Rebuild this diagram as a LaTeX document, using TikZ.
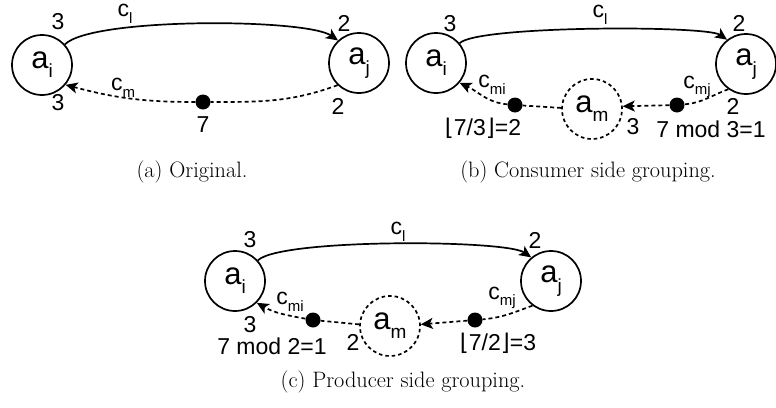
\documentclass[tikz,border=0pt]{standalone}
\usepackage{fontspec}
\usetikzlibrary{arrows.meta}
\newfontfamily\lblfont{Liberation Sans}
\newfontfamily\symfont{DejaVu Sans}
% subscript in the label font
\newcommand{\lowsub}[1]{\raisebox{-0.28em}{\fontsize{15}{15}\selectfont #1}}
\newcommand{\nodesub}[1]{\raisebox{-0.3em}{\fontsize{19}{19}\selectfont #1}}
\newcommand{\flo}{{\symfont\char"230A}}
\newcommand{\flc}{{\symfont\char"230B}}
\begin{document}
\begin{tikzpicture}[x=1pt, y=-1pt,
  actor/.style={circle, draw, line width=1.7pt, minimum size=60pt, inner sep=0pt,
    font=\lblfont\fontsize{31}{31}\selectfont},
  groupactor/.style={actor, dash pattern=on 3.5pt off 3pt},
  tok/.style={circle, fill=black, minimum size=15pt, inner sep=0pt},
  lbl/.style={font=\lblfont\fontsize{23}{23}\selectfont, inner sep=0pt},
  captext/.style={font=\fontsize{22.3}{26}\selectfont, inner sep=0pt},
  chan/.style={line width=1.7pt, -{Stealth[length=12pt, width=11pt, inset=3pt]}},
  dchan/.style={line width=1.7pt, dash pattern=on 4pt off 3pt},
  dchanarr/.style={dchan, -{Stealth[length=12pt, width=11pt, inset=3pt]}}
]
\useasboundingbox (0,0) rectangle (776,407);

% ---------------- (a) original ----------------
\node[actor] (ai) at (42,65) {a\nodesub{i}};
\node[actor] (aj) at (359,63) {a\nodesub{j}};
\node[tok] (t) at (203,102) {};
\draw[chan] (ai.42) to[out=45, in=145, looseness=0.36] (aj.133);
\draw[dchan] (aj.226) to[out=200, in=0] (t);
\draw[dchanarr] (t) to[out=180, in=-15] (ai.-40);
\node[lbl] (a3t) at (58,22) {3};
\node[lbl] (acl) at (125,14) {c\lowsub{l}};
\node[lbl] (a2t) at (344,23) {2};
\node[lbl] (acm) at (123,88) {c\lowsub{m}};
\node[lbl] (a3b) at (58,103) {3};
\node[lbl] (a2b) at (338,106) {2};
\node[lbl] (a7) at (203,125) {7};
\node[captext] (capa) at (192,172) {(a) Original.};

% ---------------- (b) consumer side grouping ----------------
\node[actor] (bi) at (436,63) {a\nodesub{i}};
\node[actor] (bj) at (746,64) {a\nodesub{j}};
\node[groupactor] (bm) at (592,109) {a\nodesub{m}};
\node[tok] (bt1) at (515,105) {};
\node[tok] (bt2) at (677,105) {};
\draw[chan] (bi.40) to[out=45, in=145, looseness=0.24] (bj.128);
\draw[dchan] (bj.235) to[out=200, in=5] (bt2);
\draw[dchanarr] (bt2) -- (bm.5);
\draw[dchan] (bm.178) -- (bt1);
\draw[dchanarr] (bt1) to[out=175, in=-25] (bi.-40);
\node[lbl] (b3t) at (450,24) {3};
\node[lbl] (bcl) at (600,15) {c\lowsub{l}};
\node[lbl] (b2t) at (739,23) {2};
\node[lbl] (bcmi) at (492,85) {c\lowsub{mi}};
\node[lbl] (bcmj) at (697,87) {c\lowsub{mj}};
\node[lbl] (b2b) at (733,106) {2};
\node[lbl] (bfl) at (483,128) {\flo7/3\flc=2};
\node[lbl] (b3b) at (633,127) {3};
\node[lbl] (bmod) at (711,129) {7 mod 3=1};
\node[captext] (capb) at (588,172) {(b) Consumer side grouping.};

% ---------------- (c) producer side grouping ----------------
\node[actor] (ci) at (235,281) {a\nodesub{i}};
\node[actor] (cj) at (551,281) {a\nodesub{j}};
\node[groupactor] (cm) at (390,326) {a\nodesub{m}};
\node[tok] (ct1) at (313,320) {};
\node[tok] (ct2) at (475,320) {};
\draw[chan] (ci.42) to[out=45, in=145, looseness=0.29] (cj.130);
\draw[dchan] (cj.233) to[out=200, in=5] (ct2);
\draw[dchanarr] (ct2) -- (cm.3);
\draw[dchan] (cm.177) -- (ct1);
\draw[dchanarr] (ct1) to[out=170, in=-30] (ci.-45);
\node[lbl] (c3t) at (250,240) {3};
\node[lbl] (ccl) at (398,232) {c\lowsub{l}};
\node[lbl] (c2t) at (535,240) {2};
\node[lbl] (ccmi) at (290,302) {c\lowsub{mi}};
\node[lbl] (ccmj) at (502,298) {c\lowsub{mj}};
\node[lbl] (c3b) at (250,325) {3};
\node[lbl] (cmod) at (272,346) {7 mod 2=1};
\node[lbl] (c2b) at (353,342) {2};
\node[lbl] (cfl) at (498,343) {\flo7/2\flc=3};
\node[captext] (capc) at (403,382) {(c) Producer side grouping.};
\end{tikzpicture}
\end{document}
